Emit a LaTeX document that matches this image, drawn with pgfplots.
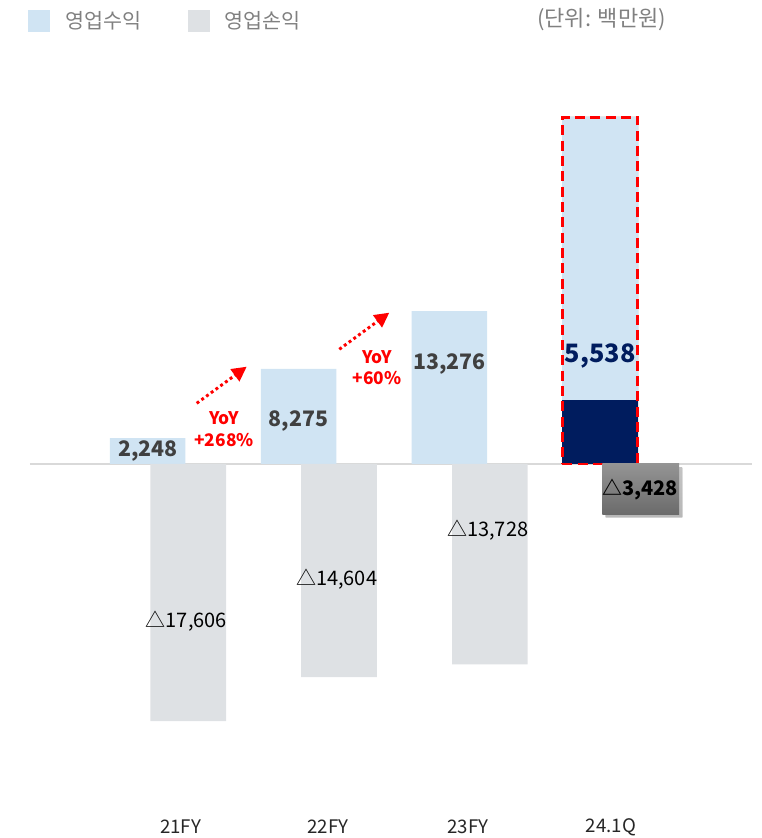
\documentclass[border=0pt]{standalone}
\usepackage{fontspec}
\setmainfont{Noto Sans CJK KR}
\usepackage{pgfplots}
\pgfplotsset{compat=1.18}
\usetikzlibrary{shadows,arrows.meta}

\definecolor{revblue}{HTML}{D0E4F3}
\definecolor{lossgray}{HTML}{DEE1E4}
\definecolor{navy}{HTML}{001C5E}
\definecolor{valgray}{HTML}{404040}
\definecolor{leggray}{HTML}{808080}
\definecolor{basegray}{HTML}{D9D9D9}

% shared frame: the whole picture is the axis area (762 x 838 px, 1px = 0.75pt)
\pgfplotsset{frame/.style={
  at={(0,0)}, anchor=south west, scale only axis,
  width=571.5pt, height=628.5pt,
  xmin=-1.114, xmax=3.939,
  axis line style={draw=none}, tick style={draw=none},
  xtick=\empty, ytick=\empty, clip=false}}

\begin{document}
\begin{tikzpicture}
% revenue axis (its own scale)
\begin{axis}[frame, ymin=-32501, ymax=40322]
\draw[basegray, line width=0.9pt] (axis cs:-0.916,0) -- (axis cs:3.872,0);
\addplot[ybar, bar width=56.6pt, bar shift=-15.2pt, fill=revblue, draw=none]
  coordinates {(0,2248) (1,8275) (2,13276)};
% 24.1Q highlight box
\addplot[ybar, bar width=56.6pt, bar shift=-15.2pt, fill=revblue, draw=none,
  drop shadow={shadow xshift=1.2pt, shadow yshift=1.2pt, opacity=0.18}]
  coordinates {(3,30140)};
\addplot[ybar, bar width=56.6pt, bar shift=-15.2pt, fill=navy, draw=none]
  coordinates {(3,5538)};
\addplot[ybar, bar width=56.6pt, bar shift=-15.2pt, fill=none, draw=red,
  line width=2.2pt, dash pattern=on 7.5pt off 4pt]
  coordinates {(3,30140)};
\node[font=\fontsize{16}{18}\selectfont\bfseries, text=valgray] at (axis cs:-0.134,1130) {2,248};
\node[font=\fontsize{16}{18}\selectfont\bfseries, text=valgray] at (axis cs:0.866,3737) {8,275};
\node[font=\fontsize{16}{18}\selectfont\bfseries, text=valgray] at (axis cs:1.866,8690) {13,276};
\node[font=\fontsize{19}{21}\selectfont\bfseries, text=navy] at (axis cs:2.866,9400) {5,538};
\end{axis}
% operating loss axis (its own scale)
\begin{axis}[frame, ymin=-25619, ymax=31784,
  xtick={0.083,1.061,1.989,2.938},
  xticklabels={21FY,22FY,23FY,24.1Q},
  xticklabel style={anchor=center, yshift=8.25pt,
    font=\fontsize{14}{16}\selectfont, text=black!85},
  legend columns=2,
  legend style={at={(rel axis cs:0.037,0.990)}, anchor=north west,
    draw=none, fill=none, inner sep=0pt,
    font=\fontsize{15.5}{17}\selectfont, text=leggray,
    /tikz/every odd column/.append style={column sep=9pt},
    /tikz/every even column/.append style={column sep=33pt}},
  legend image code/.code={\fill[#1] (0pt,-8.25pt) rectangle (16.5pt,8.25pt);}]
\addlegendimage{fill=revblue, draw=none}
\addlegendentry{영업수익}
\addlegendimage{fill=lossgray, draw=none}
\addlegendentry{영업손익}
\addplot[ybar, bar width=56.8pt, bar shift=15.2pt, fill=lossgray, draw=none, forget plot]
  coordinates {(0,-17606) (1,-14604) (2,-13728)};
\addplot[ybar, bar width=57.5pt, bar shift=15.2pt, draw=none, forget plot,
  top color=black!42, bottom color=black!58,
  drop shadow={shadow xshift=2.5pt, shadow yshift=-2.5pt, opacity=0.3}]
  coordinates {(3,-3428)};
\node[font=\fontsize{15}{17}\selectfont, text=black] at (axis cs:0.122,-10755) {△17,606};
\node[font=\fontsize{15}{17}\selectfont, text=black] at (axis cs:1.118,-7878) {△14,604};
\node[font=\fontsize{15}{17}\selectfont, text=black] at (axis cs:2.120,-4521) {△13,728};
\node[font=\fontsize{15}{17}\selectfont\bfseries, text=black] at (axis cs:3.131,-1781) {△3,428};
\end{axis}
% annotations in pixel coordinates of the reference (origin top left)
\begin{scope}[shift={(0pt,628.5pt)}, x=0.75pt, y=-0.75pt]
\node[anchor=west, font=\fontsize{16.5}{18}\selectfont, text=leggray, inner sep=0pt] at (537,20) {(단위: 백만원)};
\draw[red, line width=2.2pt, dash pattern=on 2.2pt off 2.2pt,
  -{Triangle[length=11pt,width=11pt]}] (196.7,403.3) -- (246.7,366.7);
\draw[red, line width=2.2pt, dash pattern=on 2.2pt off 2.2pt,
  -{Triangle[length=11pt,width=11pt]}] (339.3,349.3) -- (389.3,312.7);
\node[font=\fontsize{13}{15}\selectfont\bfseries, text=red, inner sep=0pt] at (224,418) {YoY};
\node[font=\fontsize{13}{15}\selectfont\bfseries, text=red, inner sep=0pt] at (224,440) {+268\%};
\node[font=\fontsize{13}{15}\selectfont\bfseries, text=red, inner sep=0pt] at (377,356.7) {YoY};
\node[font=\fontsize{13}{15}\selectfont\bfseries, text=red, inner sep=0pt] at (377,378) {+60\%};
\end{scope}
\pgfresetboundingbox
\path[use as bounding box] (0,0) rectangle (571.5pt,628.5pt);
\end{tikzpicture}
\end{document}
